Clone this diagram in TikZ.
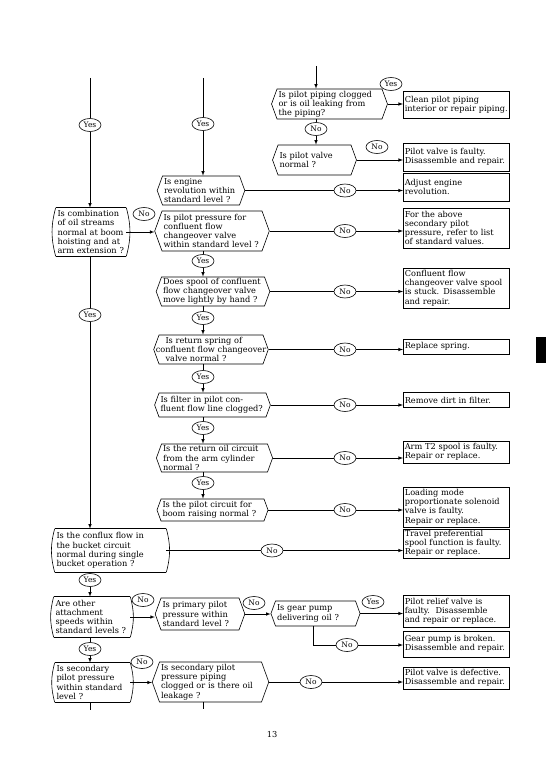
\documentclass[tikz,border=0pt]{standalone}
\usepackage{fontspec}
\setmainfont{DejaVu Serif}
\usetikzlibrary{shapes,arrows,positioning,calc}

\begin{document}
\begin{tikzpicture}[x=1pt,y=-1pt, >=latex, line width=0.6pt, font=\fontsize{8.2}{9.2}\selectfont,
  ques/.style={signal, signal to=west and east, signal pointer angle=140, draw, align=left, inner xsep=1.5pt, inner ysep=1pt},
  cond/.style={rectangle, align=left, inner xsep=1.5pt, inner ysep=1pt,
    append after command={(\tikzlastnode.north west) edge[draw, bend right=15] (\tikzlastnode.south west)
      (\tikzlastnode.south west) edge[draw] (\tikzlastnode.south east)
      (\tikzlastnode.south east) edge[draw, bend right=15] (\tikzlastnode.north east)
      (\tikzlastnode.north east) edge[draw] (\tikzlastnode.north west)}},
  remedy/.style={rectangle, draw, anchor=west, text width=103pt, align=left, inner xsep=1.5pt, inner ysep=1pt},
  yn/.style={ellipse, draw, fill=white, inner sep=0.5pt, minimum width=22pt, minimum height=13pt, font=\fontsize{7.5}{8}\selectfont}]
\useasboundingbox (0,0) rectangle (549,762);

% free ends at the top
\coordinate (topA) at (90,78);
\coordinate (topB) at (203,78);
\coordinate (topC) at (316,66);

% questions
\node[ques, text width=102pt, minimum height=30pt] (q1) at (329.5,104) {Is pilot piping clogged\\or is oil leaking from\\the piping?};
\node[ques, text width=70pt, minimum height=30pt] (q2) at (314.5,160) {Is pilot valve\\normal ?};
\node[ques, text width=74pt, minimum height=29pt] (q3) at (201,190.5) {Is engine\\revolution within\\standard level ?};
\node[ques, text width=97pt, minimum height=40pt] (q4) at (212,231) {Is pilot pressure for\\confluent flow\\changeover valve\\within standard level ?};
\node[ques, text width=100pt, minimum height=29pt] (q5) at (213,291.5) {Does spool of confluent\\flow changeover valve\\move lightly by hand ?};
\node[ques, text width=101pt, minimum height=29pt] (q6) at (211,349.5) {\hspace*{5pt}Is return spring of\\\makebox[101pt][c]{confluent flow changeover}\\\hspace*{5pt}valve normal ?};
\node[ques, text width=104pt, minimum height=24pt] (q7) at (212.5,405) {Is filter in pilot con-\\fluent flow line clogged?};
\node[ques, text width=103pt, minimum height=28pt] (q8) at (214.5,458) {Is the return oil circuit\\from the arm cylinder\\normal ?};
\node[ques, text width=100pt, minimum height=22pt] (q9) at (212.5,510) {Is the pilot circuit for\\boom raising normal ?};
\node[ques, text width=75pt, minimum height=32pt] (q10) at (200,614) {Is primary pilot\\pressure within\\standard level ?};
\node[ques, text width=77pt, minimum height=25pt] (q11) at (315.5,613.5) {Is gear pump\\delivering oil ?};
\node[ques, text width=99pt, minimum height=40pt] (q12) at (210.5,682) {Is secondary pilot\\pressure piping\\clogged or is there oil\\leakage ?};

% checks on the left
\node[cond, text width=67pt, minimum height=48pt] (c1) at (91,232) {Is combination\\of oil streams\\normal at boom\\hoisting and at\\arm extension ?};
\node[cond, text width=108pt, minimum height=43pt] (c2) at (110.5,550.5) {Is the conflux flow in\\the bucket circuit\\normal during single\\bucket operation ?};
\node[cond, text width=73pt, minimum height=40pt] (c3) at (92,617) {Are other\\attachment\\speeds within\\standard levels ?};
\node[cond, text width=72pt, minimum height=39pt] (c4) at (92.5,682.5) {Is secondary\\pilot pressure\\within standard\\level ?};

% remedies
\node[remedy, minimum height=27pt] (r1) at (403,104.5) {Clean pilot piping\\interior or repair piping.};
\node[remedy, minimum height=28pt] (r2) at (403,157) {Pilot valve is faulty.\\Disassemble and repair.};
\node[remedy, minimum height=28pt] (r3) at (403,187) {Adjust engine\\revolution.};
\node[remedy, minimum height=40pt] (r4) at (403,228) {For the above\\secondary pilot\\pressure, refer to list\\of standard values.};
\node[remedy, minimum height=40pt] (r5) at (403,288) {Confluent flow\\changeover valve spool\\is stuck. Disassemble\\and repair.};
\node[remedy, minimum height=15pt] (r6) at (403,346.5) {Replace spring.};
\node[remedy, minimum height=15pt] (r7) at (403,400) {Remove dirt in filter.};
\node[remedy, minimum height=22pt] (r8) at (403,452) {Arm T2 spool is faulty.\\Repair or replace.};
\node[remedy, minimum height=40pt] (r9) at (403,507) {Loading mode\\proportionate solenoid\\valve is faulty.\\Repair or replace.};
\node[remedy, minimum height=29pt] (r10) at (403,543.5) {Travel preferential\\spool function is faulty.\\Repair or replace.};
\node[remedy, minimum height=32pt] (r11) at (403,611) {Pilot relief valve is\\faulty.\ \ Disassemble\\and repair or replace.};
\node[remedy, minimum height=26pt] (r12) at (403,644) {Gear pump is broken.\\Disassemble and repair.};
\node[remedy, minimum height=22pt] (r13) at (403,678) {Pilot valve is defective.\\Disassemble and repair.};

% yes / no marks
\node[yn] (ya0) at (90,125) {Yes};
\node[yn] (yb0) at (203,124) {Yes};
\node[yn] (yq1) at (391,84) {Yes};
\node[yn] (nq1) at (316,129) {No};
\node[yn] (nq2) at (377,147) {No};
\node[yn] (nq3) at (q3.east -| 345,0) {No};
\node[yn] (nc1) at (144,214) {No};
\node[yn] (nq4) at (q4.east -| 345,0) {No};
\node[yn] (yq4) at (203,261) {Yes};
\node[yn] (nq5) at (q5.east -| 345,0) {No};
\node[yn] (yq5) at (203,318) {Yes};
\node[yn] (nq6) at (q6.east -| 345,0) {No};
\node[yn] (yq6) at (203,377) {Yes};
\node[yn] (nq7) at (q7.east -| 345,0) {No};
\node[yn] (yq7) at (203,428) {Yes};
\node[yn] (nq8) at (q8.east -| 345,0) {No};
\node[yn] (yq8) at (203,483) {Yes};
\node[yn] (nq9) at (q9.east -| 345,0) {No};
\node[yn] (yc1) at (90,315) {Yes};
\node[yn] (nc2) at (c2.east -| 272,0) {No};
\node[yn] (yc2) at (90,580) {Yes};
\node[yn] (nc3) at (143,600) {No};
\node[yn] (nq10) at (254,603) {No};
\node[yn] (yq11) at (373,602) {Yes};
\node[yn] (nq11) at (347,645) {No};
\node[yn] (yc3) at (90,649) {Yes};
\node[yn] (nc4) at (142,662) {No};
\node[yn] (nq12) at (q12.east -| 311,0) {No};

% top right column
\draw[->] (topC) -- (q1.north -| topC);
\draw[->] (q1.east) -- (q1.east -| r1.west);
\draw (q1.south -| topC) -- (nq1);
\draw[->] (nq1) -- (q2.north -| topC);
\draw[->] (q2.east) -- (q2.east -| r2.west);

% middle column
\draw (topB) -- (yb0);
\draw[->] (yb0) -- (q3.north -| topB);
\draw (q3.east) -- (nq3);
\draw[->] (nq3) -- (nq3 -| r3.west);
\draw (q4.east) -- (nq4);
\draw[->] (nq4) -- (nq4 -| r4.west);
\draw (q4.south -| topB) -- (yq4);
\draw[->] (yq4) -- (q5.north -| topB);
\draw (q5.east) -- (nq5);
\draw[->] (nq5) -- (nq5 -| r5.west);
\draw (q5.south -| topB) -- (yq5);
\draw[->] (yq5) -- (q6.north -| topB);
\draw (q6.east) -- (nq6);
\draw[->] (nq6) -- (nq6 -| r6.west);
\draw (q6.south -| topB) -- (yq6);
\draw[->] (yq6) -- (q7.north -| topB);
\draw (q7.east) -- (nq7);
\draw[->] (nq7) -- (nq7 -| r7.west);
\draw (q7.south -| topB) -- (yq7);
\draw[->] (yq7) -- (q8.north -| topB);
\draw (q8.east) -- (nq8);
\draw[->] (nq8) -- (nq8 -| r8.west);
\draw (q8.south -| topB) -- (yq8);
\draw[->] (yq8) -- (q9.north -| topB);
\draw (q9.east) -- (nq9);
\draw[->] (nq9) -- (nq9 -| r9.west);

% left column
\draw (topA) -- (ya0);
\draw[->] (ya0) -- (c1.north -| topA);
\draw[->] (c1.east) -- (c1.east -| q4.west);
\draw (c1.south -| topA) -- (yc1);
\draw[->] (yc1) -- (c2.north -| topA);
\draw (c2.east) -- (nc2);
\draw[->] (nc2) -- (nc2 -| r10.west);
\draw (c2.south -| topA) -- (yc2);
\draw[->] (yc2) -- (c3.north -| topA);
\draw[->] (c3.east) -- (c3.east -| q10.west);
\draw[->] (q10.east) -- (q10.east -| q11.west);
\draw[->] (q11.east) -- (q11.east -| r11.west);
\draw (q11.south -| 313,0) |- (nq11);
\draw[->] (nq11) -- (nq11 -| r12.west);
\draw (c3.south -| topA) -- (yc3);
\draw[->] (yc3) -- (c4.north -| topA);
\draw[->] (c4.east) -- (c4.east -| q12.west);
\draw (q12.east) -- (nq12);
\draw[->] (nq12) -- (nq12 -| r13.west);
\draw (c4.south -| topA) -- ++(0,8);
\draw (q12.south -| topB) -- ++(0,7);

% page number and tab
\node (pg) at (272,735) {13};
\fill (536,337) rectangle (546,363);
\end{tikzpicture}
\end{document}
